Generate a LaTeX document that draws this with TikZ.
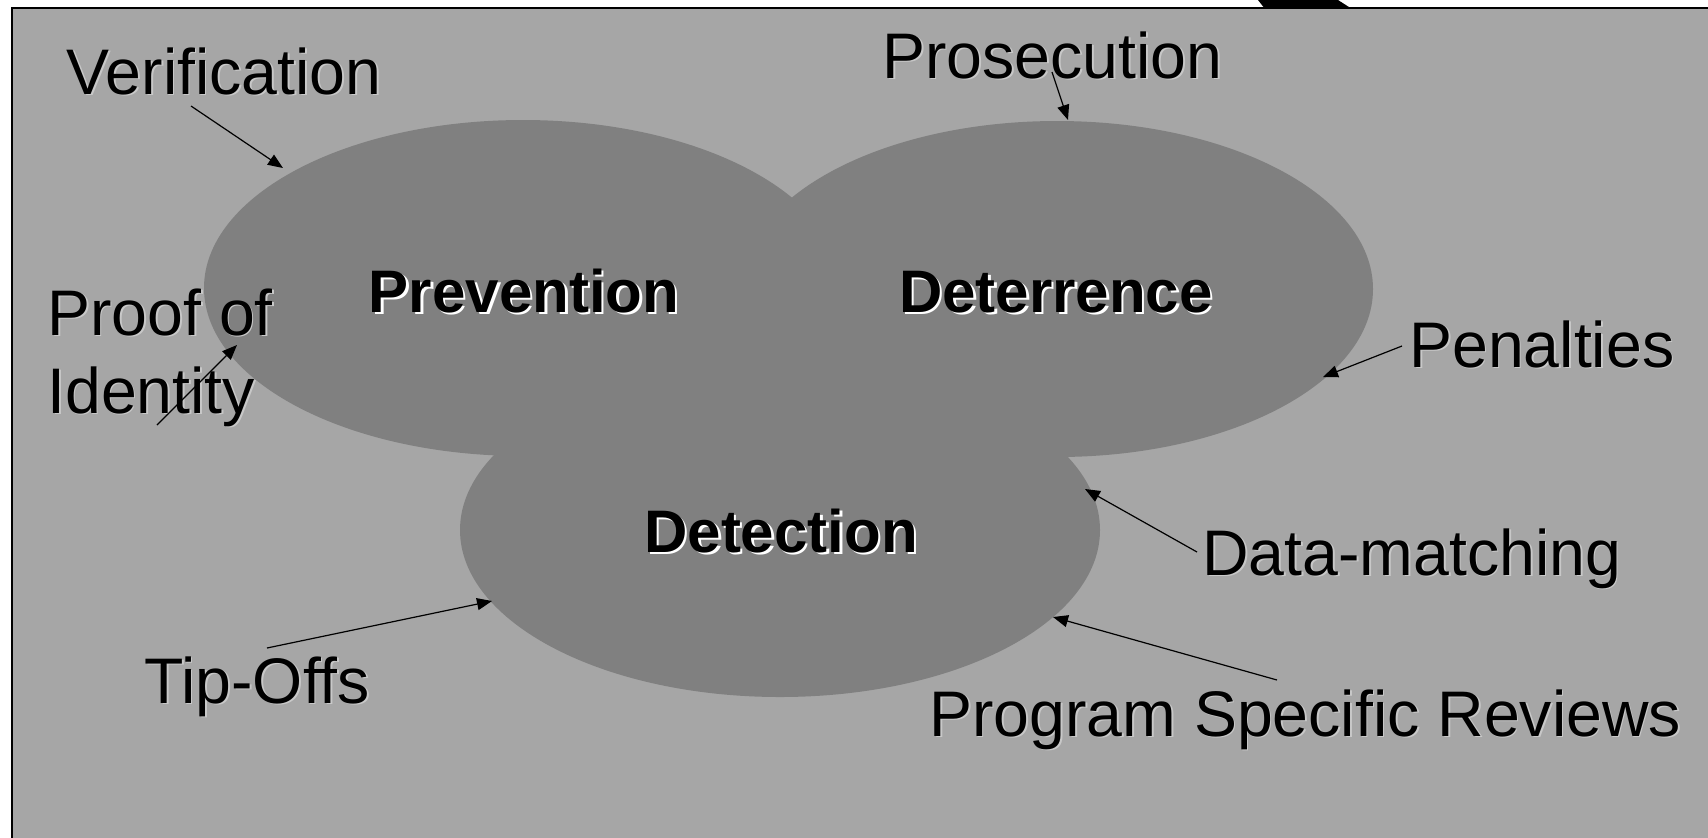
\documentclass[tikz,border=0pt]{standalone}
\usepackage{fontspec}
\setmainfont{Liberation Sans}
\usetikzlibrary{arrows.meta,shapes.geometric}
\definecolor{bggray}{HTML}{A6A6A6}
\definecolor{ellgray}{HTML}{808080}
\definecolor{shgray}{HTML}{C8C8C8}
\newcommand\shtxt[3]{\makebox[0pt][l]{\kern#2\raisebox{-#2}{\textcolor{#1}{#3}}}#3}
\newcommand\rl[1]{\shtxt{shgray}{0.8pt}{#1}}
\newcommand\bl[1]{\shtxt{white}{1.3pt}{#1}}
\begin{document}
\begin{tikzpicture}[x=0.5pt,y=-0.5pt,
  blob/.style={ellipse, fill=ellgray, inner sep=0pt},
  lbl/.style={anchor=base west, inner sep=0pt, font=\fontsize{32.2}{39}\selectfont, align=left},
  title/.style={anchor=base, inner sep=0pt, font=\fontsize{30}{35}\selectfont\bfseries},
  conn/.style={draw=black, line width=0.6pt, -{Triangle[length=7.5pt,width=6pt]}}
]
\useasboundingbox (0,0) rectangle (1708,837);
% frame
\fill[black] (1258,0) -- (1338,0) -- (1352,9) -- (1265,9) -- cycle;
\fill[bggray] (12,8) rectangle (1730,860);
\draw[line width=1pt] (1730,8) -- (12,8) -- (12,860);
% ellipses
\node[blob, minimum width=319pt, minimum height=168pt] (prev) at (523,288) {};
\node[blob, minimum width=316pt, minimum height=168pt] (deter) at (1057,289) {};
\node[blob, minimum width=320pt, minimum height=167pt] (detect) at (780,530) {};
% titles
\node[title] (tprev) at (524,312) {\bl{Prevention}};
\node[title] (tdeter) at (1056,312) {\bl{Deterrence}};
\node[title] (tdetect) at (781,552) {\bl{Detection}};
% labels
\node[lbl] (ver) at (66,94) {\rl{Verification}};
\node[lbl] (pros) at (882,78) {\rl{Prosecution}};
\node[lbl] (poi) at (47,413) {\rl{Proof of}\\\rl{Identity}};
\node[lbl] (pen) at (1409,367) {\rl{Penalties}};
\node[lbl] (dm) at (1202,575) {\rl{Data-matching}};
\node[lbl] (tip) at (144,703) {\rl{Tip-Offs}};
\node[lbl] (psr) at (929,736) {\rl{Program Specific Reviews}};
% arrow ends
\coordinate (verS) at (191,106);  \coordinate (verE) at (283,168);
\coordinate (prosS) at (1052,72); \coordinate (prosE) at (1068,120);
\coordinate (poiS) at (157,425);  \coordinate (poiE) at (237,345);
\coordinate (penS) at (1402,346); \coordinate (penE) at (1323,377);
\coordinate (dmS) at (1197,552);  \coordinate (dmE) at (1085,489);
\coordinate (tipS) at (267,648);  \coordinate (tipE) at (492,601);
\coordinate (psrS) at (1277,680); \coordinate (psrE) at (1053,617);
\draw[conn] (verS) -- (verE);
\draw[conn] (prosS) -- (prosE);
\draw[conn] (poiS) -- (poiE);
\draw[conn] (penS) -- (penE);
\draw[conn] (dmS) -- (dmE);
\draw[conn] (tipS) -- (tipE);
\draw[conn] (psrS) -- (psrE);
\end{tikzpicture}
\end{document}
